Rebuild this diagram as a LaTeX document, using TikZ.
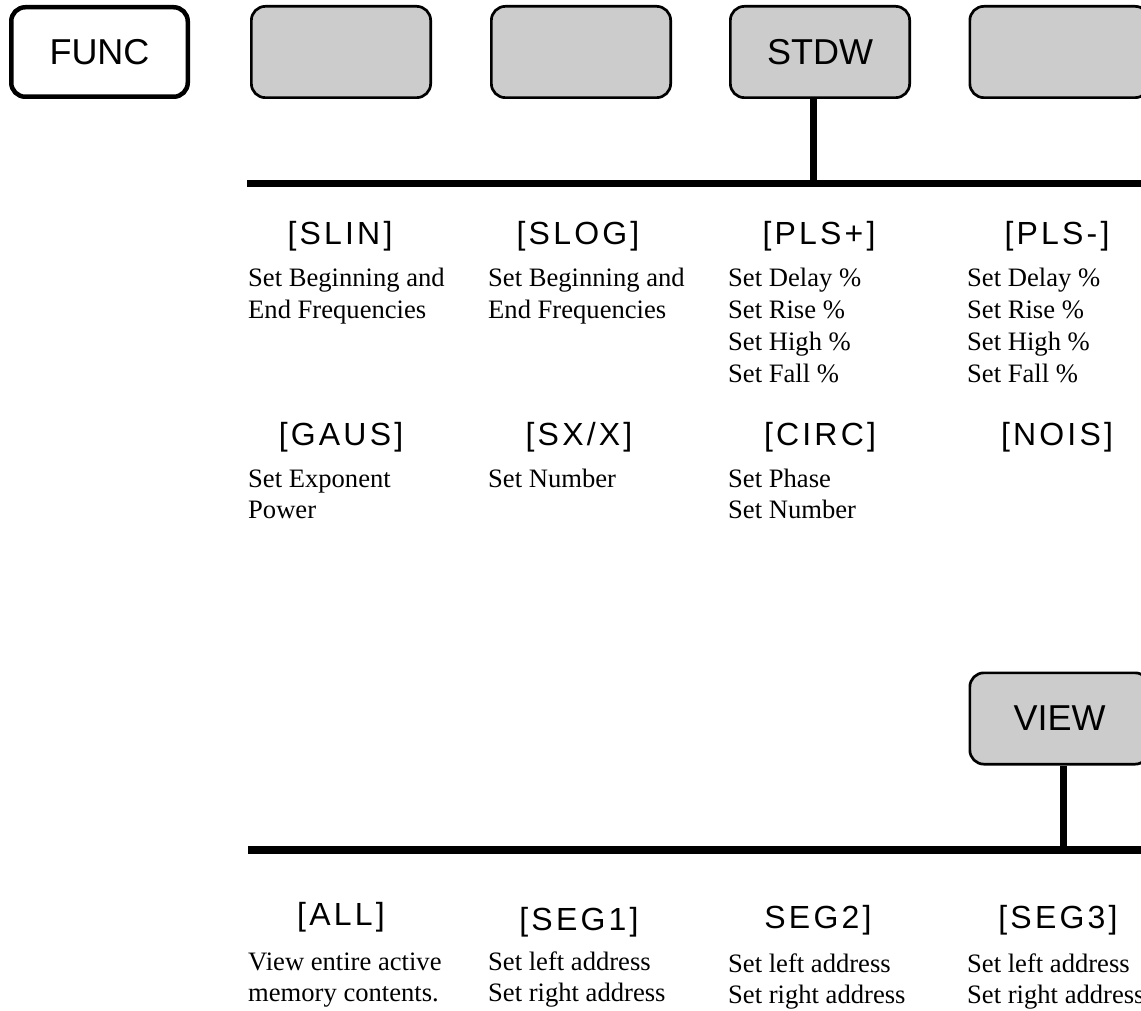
\documentclass[tikz,border=0pt]{standalone}
\usepackage{fontspec}
\setmainfont{Liberation Serif}
\newfontfamily\labfont[LetterSpace=10]{Liberation Sans}
\newfontfamily\keyfont{Liberation Sans}
\definecolor{keygrey}{RGB}{204,204,204}
\begin{document}
\begin{tikzpicture}[x=1pt,y=-1pt,
  keybox/.style={draw, line width=2.7pt, fill=keygrey, rounded corners=14pt,
    minimum width=179.3pt, minimum height=91.3pt, inner sep=0pt,
    font=\keyfont\fontsize{36}{40}\selectfont},
  funcbox/.style={draw, line width=4.5pt, fill=white, rounded corners=14pt,
    minimum width=176.5pt, minimum height=89.5pt, inner sep=0pt,
    font=\keyfont\fontsize{36}{40}\selectfont},
  bus/.style={line width=7.5pt},
  stem/.style={line width=7pt},
  lab/.style={anchor=base, inner sep=0pt, font=\labfont\fontsize{32}{38}\selectfont},
  desc/.style={anchor=base west, inner sep=0pt, font=\fontsize{26.6}{31.7}\selectfont}]
\useasboundingbox (0,0) rectangle (1141,1011);
\clip (0,0) rectangle (1141,1011);

% top keys
\node[funcbox] (func) at (99.5,52) {FUNC};
\node[keybox] (k2) at (341,52) {};
\node[keybox] (k3) at (581,52) {};
\node[keybox] (stdw) at (820,52) {STDW};
\node[keybox] (k5) at (1059.5,52) {};

% top bus
\coordinate (busAL) at (247,183.5);
\coordinate (busAR) at (1150,183.5);
\coordinate (jA) at (813,183.5);
\draw[bus] (busAL) -- (busAR);
\draw[stem] (stdw.south -| jA) -- (jA);

% row 1 labels
\node[lab] (slin) at (340,245) {[SLIN]};
\node[lab] (slog) at (578,245) {[SLOG]};
\node[lab] (plsp) at (819,245) {[PLS+]};
\node[lab] (plsm) at (1057,245) {[PLS-]};

\node[desc] (dslin) at (248,287) {\begin{tabular}[t]{@{}l@{}}Set Beginning and\\End Frequencies\end{tabular}};
\node[desc] (dslog) at (488,287) {\begin{tabular}[t]{@{}l@{}}Set Beginning and\\End Frequencies\end{tabular}};
\node[desc] (dplsp) at (728,287) {\begin{tabular}[t]{@{}l@{}}Set Delay \%\\Set Rise \%\\Set High \%\\Set Fall \%\end{tabular}};
\node[desc] (dplsm) at (967,287) {\begin{tabular}[t]{@{}l@{}}Set Delay \%\\Set Rise \%\\Set High \%\\Set Fall \%\end{tabular}};

% row 2 labels
\node[lab] (gaus) at (341,445) {[GAUS]};
\node[lab] (sxx) at (579,445) {[SX/X]};
\node[lab] (circ) at (820,445) {[CIRC]};
\node[lab] (nois) at (1057,445) {[NOIS]};

\node[desc] (dgaus) at (248,487) {\begin{tabular}[t]{@{}l@{}}Set Exponent\\Power\end{tabular}};
\node[desc] (dsxx) at (488,487) {Set Number};
\node[desc] (dcirc) at (728,487) {\begin{tabular}[t]{@{}l@{}}Set Phase\\Set Number\end{tabular}};

% bottom section
\node[keybox] (view) at (1059.5,718.5) {VIEW};
\coordinate (busBL) at (248,850);
\coordinate (busBR) at (1150,850);
\coordinate (jB) at (1063,850);
\draw[bus] (busBL) -- (busBR);
\draw[stem] (view.south -| jB) -- (jB);

\node[lab] (all) at (341,925) {[ALL]};
\node[lab] (seg1) at (579,930) {[SEG1]};
\node[lab] (seg2) at (818,928) {SEG2]};
\node[lab] (seg3) at (1058,928) {[SEG3]};

\node[desc] (dall) at (248,970) {\begin{tabular}[t]{@{}l@{}}View entire active\\memory contents.\end{tabular}};
\node[desc] (dseg1) at (488,970) {\begin{tabular}[t]{@{}l@{}}Set left address\\Set right address\end{tabular}};
\node[desc] (dseg2) at (728,972) {\begin{tabular}[t]{@{}l@{}}Set left address\\Set right address\end{tabular}};
\node[desc] (dseg3) at (967,972) {\begin{tabular}[t]{@{}l@{}}Set left address\\Set right address\end{tabular}};
\end{tikzpicture}
\end{document}
